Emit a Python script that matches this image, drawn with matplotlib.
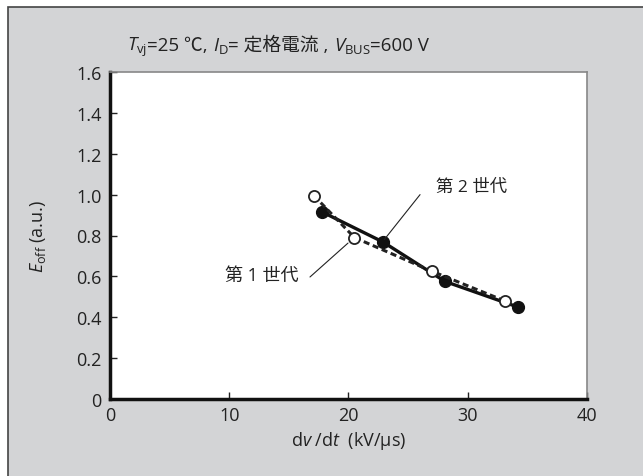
import matplotlib
matplotlib.use("Agg")
import matplotlib.pyplot as plt
from matplotlib.patches import Rectangle
from matplotlib.offsetbox import TextArea, HPacker, AnnotationBbox

plt.rcParams['font.family'] = ['Open Sans', 'Noto Sans CJK JP', 'DejaVu Sans']
plt.rcParams['mathtext.fontset'] = 'custom'
plt.rcParams['mathtext.rm'] = 'Open Sans'
plt.rcParams['mathtext.it'] = 'Open Sans:italic'

# 第 1 世代 (open circles, dashed)
gen1_x = [17.1, 20.5, 27.0, 33.1]
gen1_y = [0.995, 0.79, 0.625, 0.48]
# 第 2 世代 (filled circles, solid)
gen2_x = [17.8, 22.9, 28.1, 34.2]
gen2_y = [0.915, 0.768, 0.575, 0.45]

xticks = [0, 10, 20, 30, 40]
yticks = [0, 0.2, 0.4, 0.6, 0.8, 1.0, 1.2, 1.4, 1.6]
ytick_labels = ["0", "0.2", "0.4", "0.6", "0.8", "1.0", "1.2", "1.4", "1.6"]

title_parts = [r"$T_{\rm vj}$", "=25 ℃, ", r"$I_{\rm D}$", "= 定格電流 , ",
               r"$V_{\rm BUS}$", "=600 V"]

fig = plt.figure(figsize=(6.43, 4.77), dpi=100)
fig.patch.set_facecolor("white")
fig.patches.append(Rectangle((8 / 643, -0.05), 1.0, 1 - 8 / 477 + 0.05,
                             transform=fig.transFigure, facecolor="#d3d4d6",
                             edgecolor="#444444", linewidth=1.2, zorder=-10))

ax = fig.add_axes([110 / 643, 1 - 400 / 477, 477 / 643, 327 / 477])
ax.set_facecolor("white")

ax.plot(gen1_x, gen1_y, linestyle=(0, (2, 1.2)), color="#222222", linewidth=2.2,
        marker="o", markersize=8, markerfacecolor="white", markeredgecolor="#222222",
        markeredgewidth=1.3, zorder=3)
ax.plot(gen2_x, gen2_y, linestyle="-", color="#111111", linewidth=2.4,
        marker="o", markersize=8.5, markerfacecolor="#111111", markeredgecolor="#111111",
        zorder=2)

ax.set_xlim(0, 40)
ax.set_ylim(0, 1.6)
ax.set_xticks(xticks)
ax.set_yticks(yticks)
ax.set_yticklabels(ytick_labels)
ax.tick_params(direction="in", length=5, width=1, labelsize=13, color="#222222",
               labelcolor="#222222")
ax.tick_params(axis="x", pad=5)
ax.tick_params(axis="y", pad=6)

for side in ("left", "bottom"):
    ax.spines[side].set_linewidth(2.5)
    ax.spines[side].set_color("#111111")
for side in ("top", "right"):
    ax.spines[side].set_linewidth(1.2)
    ax.spines[side].set_color("#888888")

ax.set_xlabel(r"d$v$ /d$t$  (kV/μs)", fontsize=13, labelpad=4, color="#222222")
ax.set_ylabel(r"$E_{\rm off}$ (a.u.)", fontsize=13, labelpad=20, color="#222222")

# condition line above the plot, built from pieces so CJK glyphs render
boxes = [TextArea(p, textprops=dict(fontsize=13.5, color="#222222")) for p in title_parts]
pack = HPacker(children=boxes, align="baseline", pad=0, sep=0)
ab = AnnotationBbox(pack, (127 / 643, 1 - 47 / 477), xycoords="figure fraction",
                    box_alignment=(0, 0.5), frameon=False, pad=0)
fig.add_artist(ab)

# leader lines and labels
ax.annotate("", xy=(23.0, 0.78), xytext=(26.0, 1.0),
            arrowprops=dict(arrowstyle="-", color="#222222", linewidth=0.8,
                            shrinkA=0, shrinkB=0))
ax.text(30.3, 1.037, "第 2 世代", fontsize=12.5, ha="center", va="center", color="#222222")
ax.annotate("", xy=(19.96, 0.763), xytext=(16.77, 0.597),
            arrowprops=dict(arrowstyle="-", color="#222222", linewidth=0.8,
                            shrinkA=0, shrinkB=0))
ax.text(12.7, 0.605, "第 1 世代", fontsize=13, ha="center", va="center", color="#222222")

fig.savefig("out.png", dpi=100)
